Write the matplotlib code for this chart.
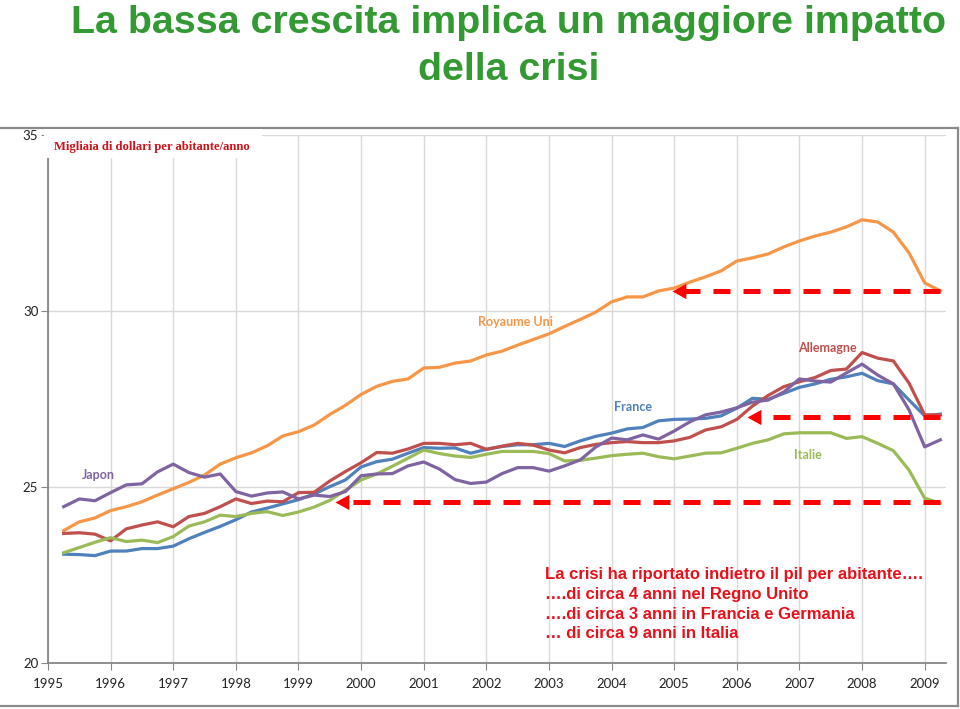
import numpy as np
import matplotlib.pyplot as plt
from matplotlib.path import Path
from matplotlib.lines import Line2D
from matplotlib.patches import Rectangle

# PIL per abitante, migliaia di dollari, dati trimestrali 1995T2 - 2009T2
uk = [23.76, 24.01, 24.12, 24.33, 24.44, 24.58, 24.77, 24.95, 25.13, 25.34,
      25.65, 25.83, 25.97, 26.17, 26.45, 26.57, 26.76, 27.06, 27.32, 27.63,
      27.86, 28.00, 28.07, 28.38, 28.40, 28.52, 28.58, 28.75, 28.86, 29.03,
      29.19, 29.35, 29.56, 29.76, 29.97, 30.26, 30.40, 30.40, 30.57, 30.65,
      30.82, 30.97, 31.14, 31.42, 31.51, 31.62, 31.82, 31.99, 32.13, 32.24,
      32.39, 32.59, 32.53, 32.24, 31.65, 30.80, 30.57]
germany = [23.68, 23.70, 23.66, 23.47, 23.81, 23.92, 24.01, 23.87, 24.16, 24.25,
           24.44, 24.66, 24.53, 24.60, 24.58, 24.84, 24.85, 25.17, 25.44, 25.69,
           25.98, 25.96, 26.08, 26.24, 26.24, 26.20, 26.24, 26.07, 26.16, 26.24,
           26.19, 26.05, 25.97, 26.12, 26.21, 26.26, 26.29, 26.26, 26.26, 26.31,
           26.41, 26.62, 26.71, 26.92, 27.30, 27.60, 27.85, 27.99, 28.11, 28.31,
           28.35, 28.82, 28.66, 28.58, 27.95, 27.05, 27.05]
france = [23.09, 23.08, 23.05, 23.18, 23.18, 23.25, 23.25, 23.32, 23.53, 23.71,
          23.88, 24.07, 24.29, 24.40, 24.52, 24.64, 24.80, 25.01, 25.20, 25.57,
          25.72, 25.79, 25.96, 26.12, 26.10, 26.11, 25.96, 26.07, 26.15, 26.20,
          26.20, 26.24, 26.15, 26.31, 26.44, 26.53, 26.65, 26.69, 26.88, 26.92,
          26.93, 26.95, 27.02, 27.24, 27.52, 27.49, 27.66, 27.83, 27.93, 28.06,
          28.13, 28.23, 28.02, 27.93, 27.47, 27.02, 27.07]
italy = [23.13, 23.28, 23.43, 23.56, 23.45, 23.49, 23.42, 23.59, 23.89, 24.01,
         24.20, 24.16, 24.25, 24.30, 24.19, 24.29, 24.43, 24.62, 24.91, 25.20,
         25.37, 25.59, 25.82, 26.05, 25.95, 25.88, 25.84, 25.93, 26.01, 26.01,
         26.01, 25.95, 25.74, 25.76, 25.82, 25.89, 25.93, 25.96, 25.86, 25.80,
         25.88, 25.96, 25.97, 26.10, 26.24, 26.34, 26.51, 26.54, 26.54, 26.54,
         26.38, 26.43, 26.24, 26.03, 25.48, 24.68, 24.54]
japan = [24.44, 24.66, 24.61, 24.84, 25.06, 25.09, 25.43, 25.65, 25.41, 25.28,
         25.37, 24.87, 24.74, 24.83, 24.86, 24.66, 24.77, 24.73, 24.87, 25.32,
         25.37, 25.38, 25.60, 25.71, 25.51, 25.21, 25.10, 25.14, 25.38, 25.55,
         25.55, 25.45, 25.60, 25.77, 26.14, 26.39, 26.34, 26.48, 26.36, 26.59,
         26.85, 27.05, 27.13, 27.25, 27.41, 27.47, 27.70, 28.07, 28.01, 27.98,
         28.24, 28.49, 28.18, 27.93, 27.19, 26.14, 26.34]

names = ["Royaume Uni", "Allemagne", "France", "Italie", "Japon"]
colors = ["#F79646", "#C0504D", "#4F81BD", "#9BBB59", "#8064A2"]
label_x = [2002.46, 2007.44, 2004.34, 2007.13, 1995.80]
label_y = [29.69, 28.95, 27.27, 25.91, 25.34]

years = list(range(1995, 2010))

# livello del 2009 e punto in cui era gia' stato raggiunto
arrow_tips = [2004.97, 2006.16, 1999.58]
arrow_levels = [30.57, 26.99, 24.57]

x = 1995.25 + 0.25 * np.arange(len(uk))

fig = plt.figure(figsize=(9.6, 7.09), dpi=100)
ax = fig.add_axes([0.05, 0.0649, 0.9354, 0.7447])

for series, c in zip([uk, france, germany, italy, japan],
                     ["#F79646", "#4F81BD", "#C0504D", "#9BBB59", "#8064A2"]):
    ax.plot(x, series, color=c, lw=2.3, solid_joinstyle="round", zorder=3)

for name, c, lx, ly in zip(names, colors, label_x, label_y):
    ax.text(lx, ly, name, color=c, fontsize=9, family="Lato", weight="bold",
            ha="center", va="center", zorder=4)

head = Path([(0, 0), (1, 0.55), (1, -0.55), (0, 0)],
            [Path.MOVETO, Path.LINETO, Path.LINETO, Path.CLOSEPOLY])
for tip, lvl in zip(arrow_tips, arrow_levels):
    ax.plot([x[-1], tip + 0.2], [lvl, lvl], color="#FF0000", lw=3.6,
            dashes=(3.4, 2.6), solid_capstyle="butt", zorder=5)
    ax.plot([tip], [lvl], marker=head, markersize=20, color="#FF0000",
            markeredgewidth=0, zorder=6)

ax.set_xlim(1995, 2009.34)
ax.set_ylim(20, 35)
ax.set_xticks(years)
ax.set_yticks([20, 25, 30, 35])
ax.grid(True, color="#d9d9d9", lw=1)
ax.set_axisbelow(True)
for s in ["top", "right"]:
    ax.spines[s].set_visible(False)
for s in ["left", "bottom"]:
    ax.spines[s].set_color("#868686")
    ax.spines[s].set_linewidth(1.3)
ax.tick_params(direction="out", length=5, color="#868686", labelsize=9.5,
               labelcolor="#222222")
ax.tick_params(axis="x", pad=6)
ax.tick_params(axis="y", pad=2)
for lab in ax.get_xticklabels() + ax.get_yticklabels():
    lab.set_family("Lato")

# titolo
title_color = "#339933"
fig.text(0.530, 1 - 33 / 709, "La bassa crescita implica un maggiore impatto",
         ha="center", va="baseline", fontsize=28.4, weight="bold",
         family="Liberation Sans", color=title_color)
fig.text(0.530, 1 - 80 / 709, "della crisi", ha="center", va="baseline",
         fontsize=28.4, weight="bold", family="Liberation Sans", color=title_color)

# riquadro grafico
frame = "#8a8a8a"
fig.add_artist(Line2D([0, 958 / 960], [1 - 127.5 / 709] * 2, color=frame, lw=1.6))
fig.add_artist(Line2D([958 / 960] * 2, [1 - 127.5 / 709, 1 - 706 / 709], color=frame, lw=1.6))
fig.add_artist(Line2D([0, 958 / 960], [1 - 706 / 709] * 2, color=frame, lw=1.6))

# etichetta unita' con sfondo bianco
fig.add_artist(Rectangle((44 / 960, 1 - 158 / 709), 218 / 960, 29 / 709,
                         facecolor="white", edgecolor="none", zorder=2))
fig.text(54 / 960, 1 - 150 / 709, "Migliaia di dollari per abitante/anno",
         fontsize=9.1, weight="bold", family="Liberation Serif", color="#D0121B",
         va="baseline", zorder=3)

fig.text(545 / 960, 1 - 567 / 709,
         "La crisi ha riportato indietro il pil per abitante….\n"
         "….di circa 4 anni nel Regno Unito\n"
         "….di circa 3 anni in Francia e Germania\n"
         "… di circa 9 anni in Italia",
         fontsize=12, weight="bold", family="Liberation Sans", color="#E8101A",
         va="top", ha="left", linespacing=1.4)

fig.savefig("out.png", dpi=100)
